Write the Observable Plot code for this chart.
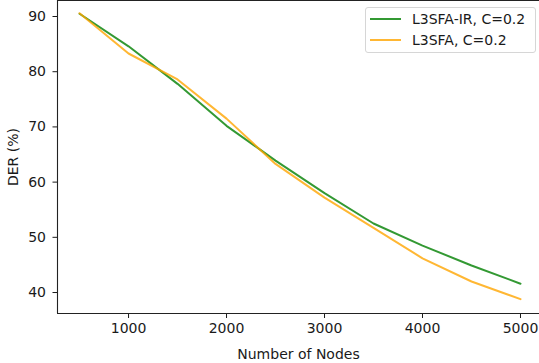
<!DOCTYPE html>
<html><head><meta charset="utf-8">
<script src="https://cdn.jsdelivr.net/npm/d3@7"></script>
<script src="https://cdn.jsdelivr.net/npm/@observablehq/plot@0.6"></script>
<style>
body{margin:0;background:#fff;}
#wrap{position:relative;width:539px;height:363px;font-family:"DejaVu Sans",sans-serif;overflow:hidden;}
.legend{position:absolute;left:365px;top:7px;width:171px;height:46px;box-sizing:border-box;border:1px solid #d6d6d6;border-radius:3px;background:rgba(255,255,255,0.85);font-size:14px;color:#1a1a1a;}
.row{position:absolute;left:0;height:20px;}
.sw{position:absolute;left:4px;width:31px;height:2px;opacity:0.8;}
.lbl{position:absolute;left:46px;white-space:nowrap;line-height:20px;}
</style></head>
<body><div id="wrap"></div>
<script>
const nodes = [500, 1000, 1500, 2000, 2500, 3000, 3500, 4000, 4500, 5000];
const irValues = [90.5, 84.6, 77.8, 70.2, 63.9, 58.0, 52.5, 48.5, 44.9, 41.6];
const sfaValues = [90.6, 83.3, 78.6, 71.5, 63.3, 57.2, 51.7, 46.2, 42.0, 38.8];
const seriesNames = ["L3SFA-IR, C=0.2", "L3SFA, C=0.2"];
const seriesColors = ["green", "orange"];
const xTicks = [1000, 2000, 3000, 4000, 5000];
const yTicks = [40, 50, 60, 70, 80, 90];

const rows = [];
nodes.forEach((n, i) => rows.push({n, v: irValues[i], s: seriesNames[0]}));
nodes.forEach((n, i) => rows.push({n, v: sfaValues[i], s: seriesNames[1]}));

const xDomain = [275, 5194];
const yDomain = [36.2, 92.9];

const chart = Plot.plot({
  width: 539, height: 363,
  marginLeft: 57, marginRight: 0, marginTop: 0, marginBottom: 50,
  style: {fontFamily: "DejaVu Sans, sans-serif", fontSize: "14px", color: "#1a1a1a", background: "white"},
  x: {domain: xDomain},
  y: {domain: yDomain},
  color: {domain: seriesNames, range: seriesColors},
  marks: [
    Plot.axisX({ticks: xTicks, tickSize: 5, tickPadding: 5, tickFormat: d => String(d), label: "Number of Nodes", labelAnchor: "center", labelOffset: 45, labelArrow: "none"}),
    Plot.axisY({ticks: yTicks, tickSize: 4.5, tickPadding: 7, tickFormat: d => String(d), label: "DER (%)", labelAnchor: "center", labelOffset: 49, labelArrow: "none"}),
    Plot.ruleX([xDomain[0]], {stroke: "#222", strokeWidth: 1.1}),
    Plot.ruleY([yDomain[0]], {stroke: "#222", strokeWidth: 1.1}),
    Plot.ruleY([yDomain[1]], {stroke: "#222", strokeWidth: 1.1}),
    Plot.line(rows, {x: "n", y: "v", z: "s", stroke: "s", strokeWidth: 2, strokeOpacity: 0.8})
  ]
});
const wrap = document.getElementById("wrap");
wrap.appendChild(chart);

const leg = document.createElement("div");
leg.className = "legend";
seriesNames.forEach((name, i) => {
  const r = document.createElement("div");
  r.className = "row";
  r.style.top = (0.5 + i * 21.5) + "px";
  r.style.width = "100%";
  const sw = document.createElement("div");
  sw.className = "sw";
  sw.style.background = seriesColors[i];
  sw.style.top = "9px";
  const t = document.createElement("div");
  t.className = "lbl";
  t.textContent = name;
  r.appendChild(sw); r.appendChild(t);
  leg.appendChild(r);
});
wrap.appendChild(leg);
</script>
</body></html>
